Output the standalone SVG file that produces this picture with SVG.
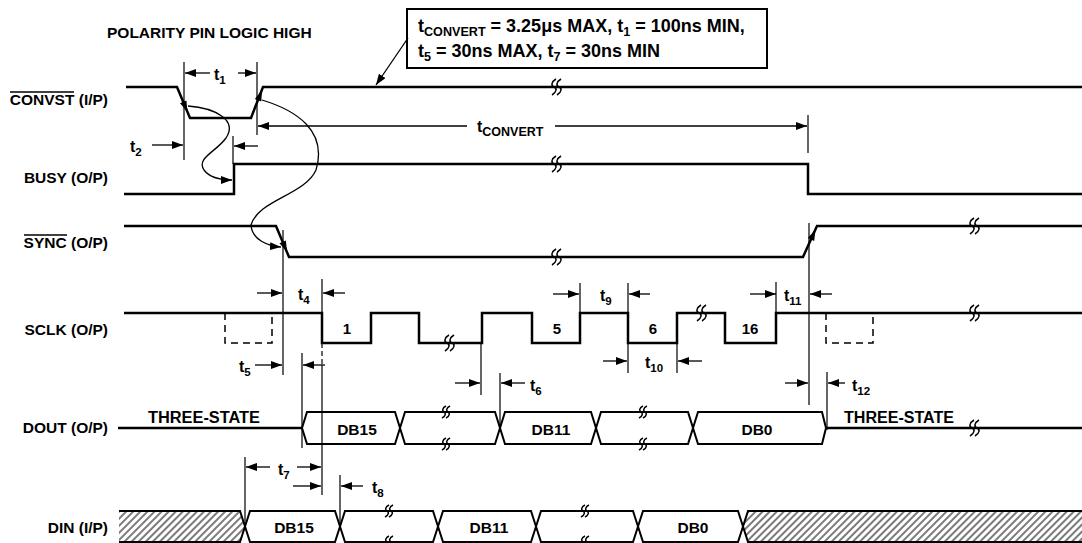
<svg xmlns="http://www.w3.org/2000/svg" width="1082" height="543" viewBox="0 0 1082 543">
<style>
text{font-family:"Liberation Sans",Arial,Helvetica,sans-serif;font-weight:bold;fill:#000}
.lbl{font-size:15.5px;text-anchor:end}
.t{font-size:16px}
.sub{font-size:11.5px}
.sig{fill:none;stroke:#000;stroke-width:2.5;stroke-linejoin:miter}
.bus{fill:#fff;stroke:#000;stroke-width:2}
.dim{fill:none;stroke:#000;stroke-width:1.2}
.dash{fill:none;stroke:#000;stroke-width:1.5;stroke-dasharray:7,5}
.arr{fill:none;stroke:#000;stroke-width:1.3;marker-end:url(#ah)}
.sq{fill:none;stroke:#000;stroke-width:1.5}
.num{font-size:15px;text-anchor:middle}
.db{font-size:15.5px;text-anchor:middle}
</style>
<defs>
<marker id="ah" markerUnits="userSpaceOnUse" markerWidth="12" markerHeight="8" refX="11" refY="4" orient="auto"><path d="M0,0 L11,4 L0,8 z" fill="#000"/></marker>
<pattern id="hatch" width="5" height="5" patternUnits="userSpaceOnUse" patternTransform="rotate(45)"><line x1="1" y1="0" x2="1" y2="5" stroke="#333" stroke-width="1.3"/></pattern>
<g id="sqg"><path d="M1,-8 C-4,-5 -4,-1 -1,0 C2,1 2,5 -3,8" class="sq"/><path d="M6,-8 C1,-5 1,-1 4,0 C7,1 7,5 2,8" class="sq"/></g>
<g id="sqs"><path d="M1,-6 C-3,-4 -3,-1 -1,0 C1,1 1,4 -3,6" class="sq"/><path d="M5,-6 C1,-4 1,-1 3,0 C5,1 5,4 1,6" class="sq"/></g>
</defs>
<rect width="1082" height="543" fill="#fff"/>

<text x="107" y="38" style="font-size:15.5px">POLARITY PIN LOGIC HIGH</text>

<g id="note">
<rect x="407" y="9" width="360" height="59" fill="#fff" stroke="#000" stroke-width="2"/>
<text x="418" y="32" style="font-size:18px">t<tspan style="font-size:12.6px" dy="4">CONVERT</tspan><tspan dy="-4"> = 3.25μs MAX, t</tspan><tspan style="font-size:12.6px" dy="4">1</tspan><tspan dy="-4"> = 100ns MIN,</tspan></text>
<text x="418" y="57" style="font-size:18px">t<tspan style="font-size:12.6px" dy="4">5</tspan><tspan dy="-4"> = 30ns MAX, t</tspan><tspan style="font-size:12.6px" dy="4">7</tspan><tspan dy="-4"> = 30ns MIN</tspan></text>
</g>

<g id="convst">
<text class="lbl" x="108" y="105">CONVST (I/P)</text>
<line x1="10" y1="92" x2="74" y2="92" stroke="#000" stroke-width="1.3"/>
<path class="sig" d="M126,87 H177 L190,118 H251 L263,87 H1082"/>
<polygon points="187.5,112 186.4,100.5 180,103.2"/>
<polygon points="262,90 261.3,101.5 254.8,99"/>
<use href="#sqg" x="555" y="87"/>
</g>

<g id="busy">
<text class="lbl" x="108" y="183">BUSY (O/P)</text>
<path class="sig" d="M124,194 H234 V164 H808 V194 H1082"/>
<use href="#sqg" x="555" y="164"/>
</g>

<g id="sync">
<text class="lbl" x="108" y="248">SYNC (O/P)</text>
<line x1="24" y1="235" x2="67" y2="235" stroke="#000" stroke-width="1.3"/>
<path class="sig" d="M124,226 H276 L289,257 H803 L817,226 H1082"/>
<polygon points="287,252 285.9,240.6 279.5,243.3"/>
<polygon points="815.5,229.5 814.2,240.9 807.8,238.1"/>
<use href="#sqg" x="555" y="257"/>
<use href="#sqg" x="973" y="226"/>
</g>

<g id="sclk">
<text class="lbl" x="108" y="335">SCLK (O/P)</text>
<path class="sig" d="M124,313 H322 V343 H371 V313 H419 V343 H482 V313 H532 V343 H580 V313 H628 V343 H677 V313 H725 V343 H776 V313 H1082"/>
<path class="dash" d="M225,313 V343 H272 V313"/>
<path class="dash" d="M826,313 V343 H873 V313"/>
<use href="#sqg" x="448" y="343"/>
<use href="#sqg" x="700" y="313"/>
<use href="#sqg" x="973" y="313"/>
<text class="num" x="347" y="334">1</text>
<text class="num" x="557" y="334">5</text>
<text class="num" x="653" y="334">6</text>
<text class="num" x="750" y="334">16</text>
</g>

<g id="dout">
<text class="lbl" x="108" y="433">DOUT (O/P)</text>
<path class="sig" d="M118,428 H302"/>
<path class="sig" d="M826,428 H1082"/>
<polygon class="bus" points="302,428 307,412 395,412 400,428 395,444 307,444"/>
<polygon class="bus" points="400,428 405,412 495,412 500,428 495,444 405,444"/>
<polygon class="bus" points="500,428 505,412 591,412 596,428 591,444 505,444"/>
<polygon class="bus" points="596,428 601,412 688,412 693,428 688,444 601,444"/>
<polygon class="bus" points="693,428 698,412 822,412 826,428 822,444 698,444"/>
<use href="#sqs" x="445" y="412"/>
<use href="#sqs" x="445" y="444"/>
<use href="#sqs" x="642" y="412"/>
<use href="#sqs" x="642" y="444"/>
<use href="#sqg" x="973" y="428"/>
<text class="db" x="357" y="435">DB15</text>
<text class="db" x="551" y="435">DB11</text>
<text class="db" x="757" y="435">DB0</text>
<text x="148" y="423" style="font-size:16px" textLength="112" lengthAdjust="spacingAndGlyphs">THREE-STATE</text>
<text x="844" y="423" style="font-size:16px" textLength="110" lengthAdjust="spacingAndGlyphs">THREE-STATE</text>
</g>

<g id="din">
<text class="lbl" x="108" y="533">DIN (I/P)</text>
<polygon points="119,511 240,511 245,526.5 240,542 119,542" fill="url(#hatch)"/>
<path d="M119,511 H240 L245,526.5 L240,542 H119" fill="none" stroke="#000" stroke-width="2"/>
<polygon class="bus" points="245,526.5 250,511 335,511 340,526.5 335,542 250,542"/>
<polygon class="bus" points="340,526.5 345,511 433,511 438,526.5 433,542 345,542"/>
<polygon class="bus" points="438,526.5 443,511 531,511 536,526.5 531,542 443,542"/>
<polygon class="bus" points="536,526.5 541,511 633,511 638,526.5 633,542 541,542"/>
<polygon class="bus" points="638,526.5 643,511 738,511 743,526.5 738,542 643,542"/>
<polygon points="743,526.5 748,511 1082,511 1082,542 748,542" fill="url(#hatch)"/>
<path d="M1082,511 H748 L743,526.5 L748,542 H1082" fill="none" stroke="#000" stroke-width="2"/>
<use href="#sqs" x="388" y="511"/>
<use href="#sqs" x="388" y="542"/>
<use href="#sqs" x="584" y="511"/>
<use href="#sqs" x="584" y="542"/>
<text class="db" x="294" y="533">DB15</text>
<text class="db" x="489" y="533">DB11</text>
<text class="db" x="693" y="533">DB0</text>
</g>

<g id="connectors">
<!-- extension lines -->
<path class="dim" d="M184,62 V160 M257,62 V135 M233,136 V164 M808,115 V153 M283,230 V375 M322,279 V313 M302,353 V448 M481,343 V395 M500,373 V428 M580,283 V313 M628,283 V313 M628,343 V373 M677,343 V373 M776,282 V313 M809,223 V405 M827,372 V430 M245,457 V526 M340,475 V526 M322,365 V495"/>
<path class="dim" d="M322,343 V365" stroke-dasharray="5,3"/>
<!-- dimension arrows -->
<path class="arr" d="M210,73 H185"/><path class="arr" d="M238,73 H256"/>
<text class="t" x="214" y="80">t<tspan class="sub" dy="4">1</tspan></text>
<path class="arr" d="M152,145 H183"/><path class="arr" d="M258,146 H234"/>
<text class="t" x="130" y="152">t<tspan class="sub" dy="4">2</tspan></text>
<path class="arr" d="M467,126 H258"/><path class="arr" d="M555,126 H807"/>
<text class="t" x="477" y="132">t<tspan style="font-size:12.5px" dy="4">CONVERT</tspan></text>
<path class="arr" d="M257,293 H282"/><path class="arr" d="M345,293 H323"/>
<text class="t" x="298" y="300">t<tspan class="sub" dy="4">4</tspan></text>
<path class="arr" d="M255,365 H282"/><path class="arr" d="M325,365 H303"/>
<text class="t" x="239" y="372">t<tspan class="sub" dy="4">5</tspan></text>
<path class="arr" d="M455,383 H480"/><path class="arr" d="M525,383 H501"/>
<text class="t" x="530" y="391">t<tspan class="sub" dy="4">6</tspan></text>
<path class="arr" d="M270,467 H246"/><path class="arr" d="M297,467 H321"/>
<text class="t" x="278" y="475">t<tspan class="sub" dy="4">7</tspan></text>
<path class="arr" d="M293,486 H321"/><path class="arr" d="M363,486 H341"/>
<text class="t" x="372" y="493">t<tspan class="sub" dy="4">8</tspan></text>
<path class="arr" d="M553,294 H579"/><path class="arr" d="M650,294 H629"/>
<text class="t" x="600" y="301">t<tspan class="sub" dy="4">9</tspan></text>
<path class="arr" d="M603,361 H627"/><path class="arr" d="M702,361 H678"/>
<text class="t" x="645" y="368">t<tspan class="sub" dy="4">10</tspan></text>
<path class="arr" d="M750,294 H776"/><path class="arr" d="M832,294 H810"/>
<text class="t" x="784" y="301">t<tspan class="sub" dy="4">11</tspan></text>
<path class="arr" d="M785,383 H808"/><path class="arr" d="M845,383 H828"/>
<text class="t" x="852" y="391">t<tspan class="sub" dy="4">12</tspan></text>
<!-- causal curves -->
<path class="arr" d="M188,106 C215,108 238,120 226,138 C216,152 196,158 204,170 C210,178 222,180 232,180"/>
<path class="arr" d="M262,100 C295,110 328,130 316,170 C305,195 258,200 251,225 C252,240 268,246 281,247"/>
<path class="arr" d="M408,38 L376,85"/>
</g>
</svg>
